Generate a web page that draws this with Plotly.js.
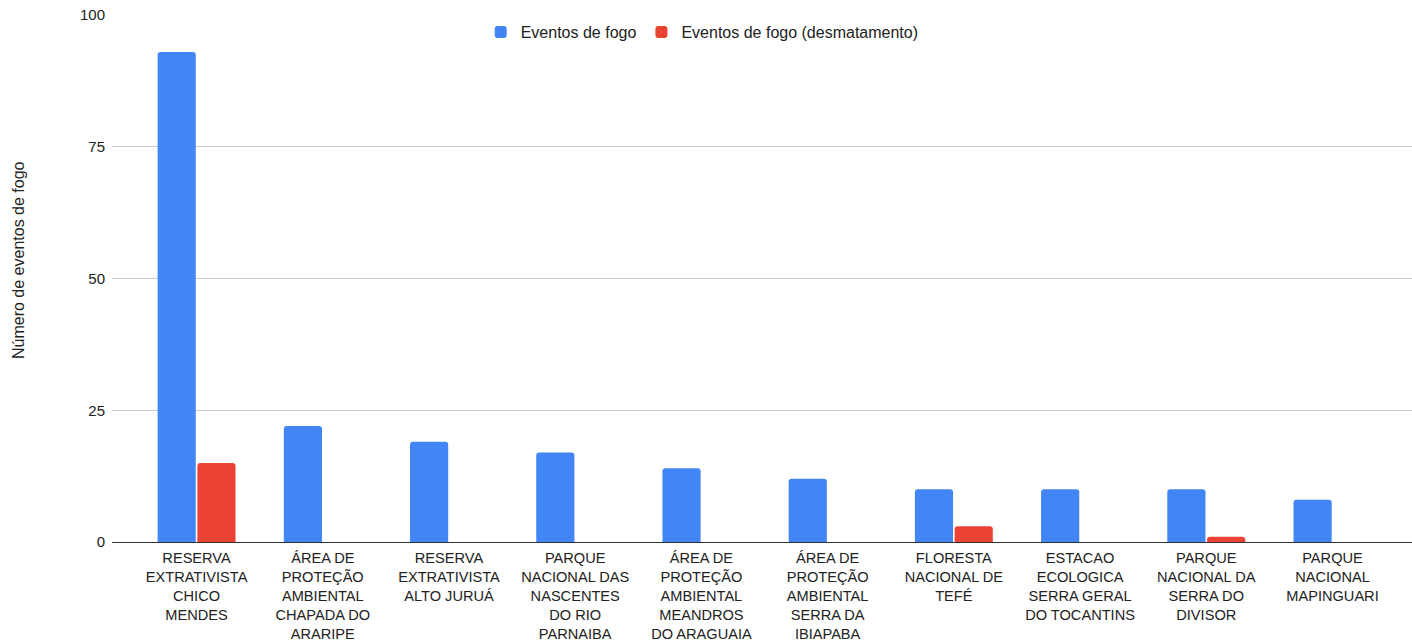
<!DOCTYPE html>
<html><head><meta charset="utf-8">
<script src="https://cdn.plot.ly/plotly-3.0.1.min.js"></script>
<style>html,body{margin:0;padding:0;background:#fff}#chart{width:1412px;height:642px}</style>
</head><body><div id="chart"></div>
<script>
const categories = [
  "RESERVA<br>EXTRATIVISTA<br>CHICO<br>MENDES",
  "ÁREA DE<br>PROTEÇÃO<br>AMBIENTAL<br>CHAPADA DO<br>ARARIPE",
  "RESERVA<br>EXTRATIVISTA<br>ALTO JURUÁ",
  "PARQUE<br>NACIONAL DAS<br>NASCENTES<br>DO RIO<br>PARNAIBA",
  "ÁREA DE<br>PROTEÇÃO<br>AMBIENTAL<br>MEANDROS<br>DO ARAGUAIA",
  "ÁREA DE<br>PROTEÇÃO<br>AMBIENTAL<br>SERRA DA<br>IBIAPABA",
  "FLORESTA<br>NACIONAL DE<br>TEFÉ",
  "ESTACAO<br>ECOLOGICA<br>SERRA GERAL<br>DO TOCANTINS",
  "PARQUE<br>NACIONAL DA<br>SERRA DO<br>DIVISOR",
  "PARQUE<br>NACIONAL<br>MAPINGUARI"
];
const eventosFogo = [93, 22, 19, 17, 14, 12, 10, 10, 10, 8];
const eventosDesmatamento = [15, 0, 0, 0, 0, 0, 3, 0, 1, 0];
const yTicks = [0, 25, 50, 75, 100];
const yTitle = 'Número de eventos de fogo';

const idx = categories.map((_, i) => i);
const data = [
  {type:'bar', name:'Eventos de fogo', x:idx, y:eventosFogo, marker:{color:'#4285f4'}},
  {type:'bar', name:'Eventos de fogo (desmatamento)', x:idx, y:eventosDesmatamento, marker:{color:'#ea4335'}}
];
const layout = {
  width:1412, height:642,
  margin:{l:112, r:0, t:15, b:100},
  font:{family:'Arial, "Liberation Sans", sans-serif', size:15, color:'#222'},
  paper_bgcolor:'#fff', plot_bgcolor:'#fff',
  barmode:'group', bargap:0.37, bargroupgap:0.04, barcornerradius:3,
  showlegend:true,
  legend:{orientation:'h', x:0.454, xanchor:'center', y:1.0, yanchor:'top', font:{size:16, color:'#222'}, itemwidth:30, traceorder:'normal'},
  xaxis:{tickmode:'array', tickvals:idx, ticktext:categories, range:[-0.67, 9.63],
         showgrid:false, zeroline:false, showline:false, ticks:'', tickangle:0, ticklabelstandoff:5,
         tickfont:{size:14.6, color:'#222'}, automargin:false, fixedrange:true},
  yaxis:{range:[0,100], tickmode:'array', tickvals:yTicks, showgrid:true, gridcolor:'#cccccc',
         zeroline:true, zerolinecolor:'#333', zerolinewidth:1, showline:false, ticks:'',
         ticklen:0, ticklabelstandoff:6, tickfont:{size:15, color:'#222'}, automargin:false},
  annotations:[{text:yTitle, xref:'paper', yref:'paper', x:-(112-18)/1300, y:(542-260)/527,
                xanchor:'center', yanchor:'middle', textangle:-90, showarrow:false,
                font:{size:16, color:'#222'}}]
};
Plotly.newPlot('chart', data, layout, {displayModeBar:false, staticPlot:true});
</script></body></html>
